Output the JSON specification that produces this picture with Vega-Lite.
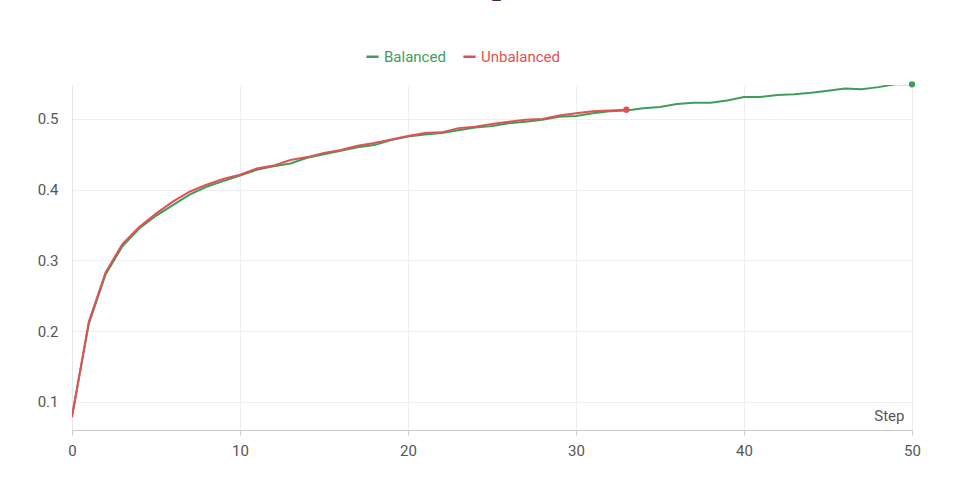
{
  "$schema": "https://vega.github.io/schema/vega-lite/v6.json",
  "width": 840,
  "height": 345,
  "autosize": {"type": "none"},
  "padding": {"left": 72, "top": 85, "right": 52, "bottom": 69},
  "background": "white",
  "config": {
    "view": {"stroke": null},
    "font": "Roboto",
    "axis": {"labelColor": "#555", "labelFontSize": 15, "gridColor": "#eeeeee", "domainColor": "#ccc", "tickColor": "#ccc"}
  },
  "title": {"text": "train_acc", "fontSize": 19, "fontWeight": "bold", "color": "#333", "anchor": "middle", "offset": 46},
  "data": {"values": [
    {"step":0,"acc":0.08,"run":"Balanced"},{"step":1,"acc":0.21,"run":"Balanced"},{"step":2,"acc":0.28,"run":"Balanced"},{"step":3,"acc":0.32,"run":"Balanced"},{"step":4,"acc":0.345,"run":"Balanced"},{"step":5,"acc":0.363,"run":"Balanced"},{"step":6,"acc":0.378,"run":"Balanced"},{"step":7,"acc":0.393,"run":"Balanced"},{"step":8,"acc":0.404,"run":"Balanced"},{"step":9,"acc":0.412,"run":"Balanced"},{"step":10,"acc":0.42,"run":"Balanced"},{"step":11,"acc":0.428,"run":"Balanced"},{"step":12,"acc":0.433,"run":"Balanced"},{"step":13,"acc":0.437,"run":"Balanced"},{"step":14,"acc":0.445,"run":"Balanced"},{"step":15,"acc":0.45,"run":"Balanced"},{"step":16,"acc":0.455,"run":"Balanced"},{"step":17,"acc":0.46,"run":"Balanced"},{"step":18,"acc":0.463,"run":"Balanced"},{"step":19,"acc":0.47,"run":"Balanced"},{"step":20,"acc":0.475,"run":"Balanced"},{"step":21,"acc":0.478,"run":"Balanced"},{"step":22,"acc":0.48,"run":"Balanced"},{"step":23,"acc":0.484,"run":"Balanced"},{"step":24,"acc":0.488,"run":"Balanced"},{"step":25,"acc":0.49,"run":"Balanced"},{"step":26,"acc":0.494,"run":"Balanced"},{"step":27,"acc":0.496,"run":"Balanced"},{"step":28,"acc":0.499,"run":"Balanced"},{"step":29,"acc":0.503,"run":"Balanced"},{"step":30,"acc":0.504,"run":"Balanced"},{"step":31,"acc":0.508,"run":"Balanced"},{"step":32,"acc":0.511,"run":"Balanced"},{"step":33,"acc":0.512,"run":"Balanced"},{"step":34,"acc":0.515,"run":"Balanced"},{"step":35,"acc":0.517,"run":"Balanced"},{"step":36,"acc":0.521,"run":"Balanced"},{"step":37,"acc":0.523,"run":"Balanced"},{"step":38,"acc":0.523,"run":"Balanced"},{"step":39,"acc":0.526,"run":"Balanced"},{"step":40,"acc":0.531,"run":"Balanced"},{"step":41,"acc":0.531,"run":"Balanced"},{"step":42,"acc":0.534,"run":"Balanced"},{"step":43,"acc":0.535,"run":"Balanced"},{"step":44,"acc":0.537,"run":"Balanced"},{"step":45,"acc":0.54,"run":"Balanced"},{"step":46,"acc":0.543,"run":"Balanced"},{"step":47,"acc":0.542,"run":"Balanced"},{"step":48,"acc":0.545,"run":"Balanced"},{"step":49,"acc":0.549,"run":"Balanced"},{"step":50,"acc":0.549,"run":"Balanced"},
    {"step":0,"acc":0.078,"run":"Unbalanced"},{"step":1,"acc":0.213,"run":"Unbalanced"},{"step":2,"acc":0.283,"run":"Unbalanced"},{"step":3,"acc":0.323,"run":"Unbalanced"},{"step":4,"acc":0.347,"run":"Unbalanced"},{"step":5,"acc":0.366,"run":"Unbalanced"},{"step":6,"acc":0.383,"run":"Unbalanced"},{"step":7,"acc":0.397,"run":"Unbalanced"},{"step":8,"acc":0.407,"run":"Unbalanced"},{"step":9,"acc":0.415,"run":"Unbalanced"},{"step":10,"acc":0.421,"run":"Unbalanced"},{"step":11,"acc":0.43,"run":"Unbalanced"},{"step":12,"acc":0.434,"run":"Unbalanced"},{"step":13,"acc":0.442,"run":"Unbalanced"},{"step":14,"acc":0.446,"run":"Unbalanced"},{"step":15,"acc":0.452,"run":"Unbalanced"},{"step":16,"acc":0.456,"run":"Unbalanced"},{"step":17,"acc":0.462,"run":"Unbalanced"},{"step":18,"acc":0.466,"run":"Unbalanced"},{"step":19,"acc":0.471,"run":"Unbalanced"},{"step":20,"acc":0.476,"run":"Unbalanced"},{"step":21,"acc":0.48,"run":"Unbalanced"},{"step":22,"acc":0.481,"run":"Unbalanced"},{"step":23,"acc":0.487,"run":"Unbalanced"},{"step":24,"acc":0.489,"run":"Unbalanced"},{"step":25,"acc":0.493,"run":"Unbalanced"},{"step":26,"acc":0.496,"run":"Unbalanced"},{"step":27,"acc":0.499,"run":"Unbalanced"},{"step":28,"acc":0.5,"run":"Unbalanced"},{"step":29,"acc":0.505,"run":"Unbalanced"},{"step":30,"acc":0.508,"run":"Unbalanced"},{"step":31,"acc":0.511,"run":"Unbalanced"},{"step":32,"acc":0.512,"run":"Unbalanced"},{"step":33,"acc":0.513,"run":"Unbalanced"}
  ]},
  "encoding": {
    "x": {"field": "step", "type": "quantitative", "scale": {"domain": [0, 50], "nice": false},
      "axis": {"values": [0,10,20,30,40,50], "grid": true, "labelFlush": false, "title": "Step", "titleFontSize": 15, "titleFontWeight": "normal", "titleColor": "#555", "titleAnchor": "end", "titleAlign": "right", "titleX": 832, "titleY": -22, "labelPadding": 8}},
    "y": {"field": "acc", "type": "quantitative", "scale": {"domain": [0.06, 0.548], "nice": false, "zero": false},
      "axis": {"values": [0.1,0.2,0.3,0.4,0.5], "format": ".1f", "title": null, "ticks": false, "domainColor": "#e5e5e5", "labelPadding": 14}},
    "color": {"field": "run", "type": "nominal",
      "scale": {"domain": ["Balanced", "Unbalanced"], "range": ["#3d9e5c", "#e05252"]},
      "legend": {"orient": "none", "legendX": 293, "legendY": -36, "direction": "horizontal", "title": null, "symbolType": "stroke", "symbolSize": 150, "symbolStrokeWidth": 2.5, "labelFontSize": 15, "labelColor": {"expr": "datum.label == 'Balanced' ? '#3d9e5c' : '#e05252'"}, "columnPadding": 12}}
  },
  "layer": [
    {"mark": {"type": "line", "strokeWidth": 2, "clip": true}},
    {"transform": [{"filter": "(datum.run == 'Balanced' && datum.step == 50) || (datum.run == 'Unbalanced' && datum.step == 33)"}],
     "mark": {"type": "point", "filled": true, "size": 40, "opacity": 1, "clip": false}}
  ]
}
